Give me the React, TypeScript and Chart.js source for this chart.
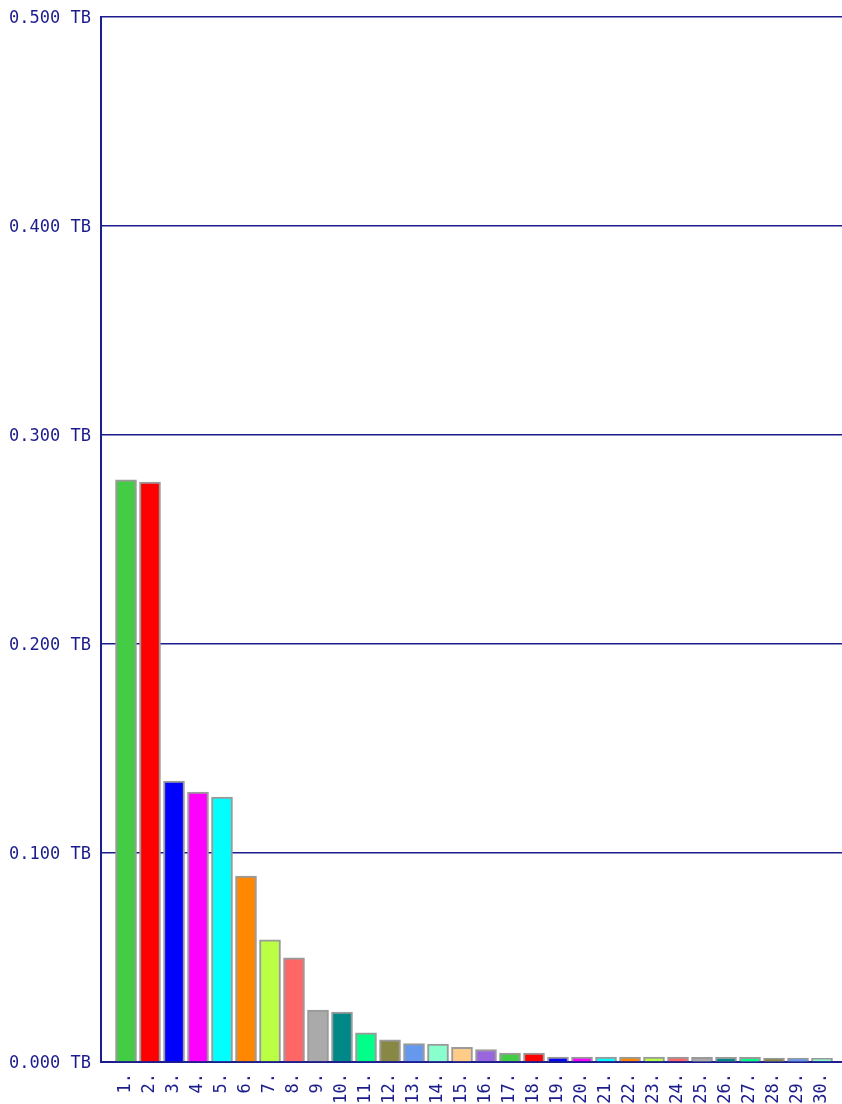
import React, { useEffect, useRef } from "react";
import { Chart, registerables } from "chart.js";

Chart.register(...registerables);

const xLabels = [
  "1.", "2.", "3.", "4.", "5.", "6.", "7.", "8.", "9.", "10.",
  "11.", "12.", "13.", "14.", "15.", "16.", "17.", "18.", "19.", "20.",
  "21.", "22.", "23.", "24.", "25.", "26.", "27.", "28.", "29.", "30.",
];

const trafficTB = [
  0.2785, 0.2775, 0.1344, 0.1292, 0.1268, 0.0890, 0.0584, 0.0498, 0.0249, 0.0239,
  0.0140, 0.0106, 0.0088, 0.0086, 0.0070, 0.0060, 0.0043, 0.0043, 0.0024, 0.0024,
  0.0023, 0.0023, 0.0023, 0.0023, 0.0022, 0.0022, 0.0022, 0.0019, 0.0019, 0.0018,
];

const palette = [
  "#44cc44", "#ff0000", "#0000ff", "#ff00ff", "#00ffff", "#ff8800", "#bbff44", "#ff6666",
  "#aaaaaa", "#008888", "#00ff88", "#888844", "#6699ee", "#88ffcc", "#ffcc88", "#9966dd",
];

const yTicks = [0, 0.1, 0.2, 0.3, 0.4, 0.5];

const NAVY = "#1c1c8c";

export default function App() {
  const ref = useRef<HTMLCanvasElement | null>(null);

  useEffect(() => {
    if (!ref.current) return;
    const font = { family: "DejaVu Sans Mono", size: 17 };
    const chart = new Chart(ref.current, {
      type: "bar",
      data: {
        datasets: [
          {
            data: trafficTB.map((v, i) => ({ x: i + 1, y: v })),
            backgroundColor: trafficTB.map((_, i) => palette[i % palette.length]),
            borderColor: "#9a9a9a",
            borderWidth: 2,
            borderSkipped: "bottom",
            barThickness: 21,
          },
        ],
      },
      options: {
        responsive: false,
        animation: false,
        layout: { padding: { top: 17, left: 0, right: 0, bottom: 0 } },
        plugins: { legend: { display: false }, tooltip: { enabled: false } },
        scales: {
          x: {
            type: "linear",
            offset: false,
            bounds: "data",
            min: -0.0417,
            max: 30.833,
            grid: { display: false, drawTicks: false },
            border: { display: true, color: NAVY, width: 2 },
            afterBuildTicks: (scale: any) => {
              scale.ticks = xLabels.map((_, i) => ({ value: i + 1 }));
            },
            afterFit: (scale: any) => {
              scale.height = 42;
              scale.paddingLeft = 0;
              scale.paddingRight = 0;
            },
            ticks: {
              autoSkip: false,
              minRotation: 90,
              maxRotation: 90,
              padding: 11,
              color: NAVY,
              font,
              callback: (v: any) => xLabels[Math.round(Number(v)) - 1] ?? "",
            },
          },
          y: {
            min: 0,
            max: 0.5,
            afterBuildTicks: (scale: any) => {
              scale.ticks = yTicks.map((v) => ({ value: v }));
            },
            afterFit: (scale: any) => {
              scale.width = 101;
              scale.paddingTop = 0;
              scale.paddingBottom = 0;
            },
            grid: { color: NAVY, lineWidth: 1.6, drawTicks: false },
            border: { display: true, color: NAVY, width: 2 },
            ticks: {
              padding: 10,
              labelOffset: 2,
              color: NAVY,
              font,
              callback: (v: any) => Number(v).toFixed(3) + " TB",
            },
          },
        },
      },
    });
    return () => chart.destroy();
  }, []);

  return (
    <div style={{ position: "fixed", left: 0, top: 0, width: 842, height: 1104, background: "#fff" }}>
      <canvas ref={ref} width={842} height={1104} style={{ display: "block" }} />
    </div>
  );
}
